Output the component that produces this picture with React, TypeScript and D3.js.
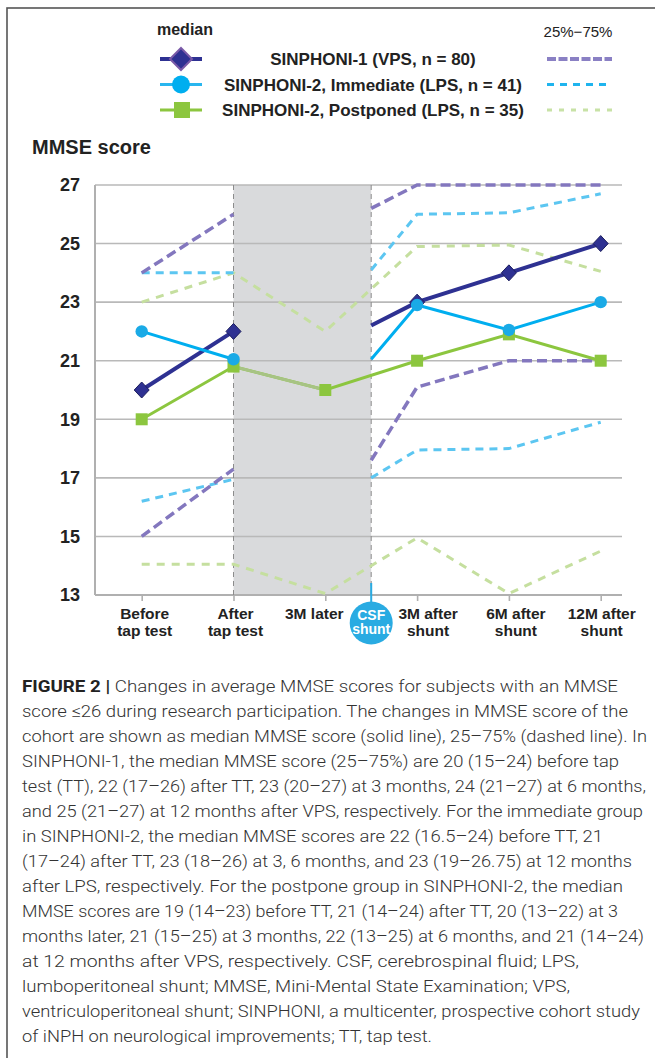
import React, { useEffect, useRef } from 'react';
import * as d3 from 'd3';

// x categories ("|" = line break) and their position on the time axis
const categories = ['Before|tap test', 'After|tap test', '3M later', 'CSF shunt', '3M after|shunt', '6M after|shunt', '12M after|shunt'];
const timePos = [0, 1, 2, 2.5, 3, 4, 5];
const yTicks = [13, 15, 17, 19, 21, 23, 25, 27];

// null at "3M later" = break in the line; null at "CSF shunt" = line passes straight through
const vpsMedian = [20, 22, null, 22.2, 23, 24, 25];
const vpsLow = [15, 17.3, null, 17.6, 20.1, 21, 21];
const vpsHigh = [24, 26, null, 26.2, 27, 27, 27];

const immMedian = [22, 21.05, null, 21.05, 22.9, 22.05, 23];
const immLow = [16.2, 16.95, null, 17, 17.95, 18, 18.9];
const immHigh = [24, 24, null, 24.1, 26, 26.05, 26.7];

const postMedian = [19, 20.8, 20, null, 21, 21.9, 21];
const postLow = [14.05, 14.05, 13.05, null, 14.95, 13.05, 14.5];
const postHigh = [23, 24, 22, null, 24.9, 24.95, 24.05];

const legendLabels = ['SINPHONI-1 (VPS, n = 80)', 'SINPHONI-2, Immediate (LPS, n = 41)', 'SINPHONI-2, Postponed (LPS, n = 35)'];

const captionLines = [
  'Changes in average MMSE scores for subjects with an MMSE',
  'score ≤26 during research participation. The changes in MMSE score of the',
  'cohort are shown as median MMSE score (solid line), 25–75% (dashed line). In',
  'SINPHONI-1, the median MMSE score (25–75%) are 20 (15–24) before tap',
  'test (TT), 22 (17–26) after TT, 23 (20–27) at 3 months, 24 (21–27) at 6 months,',
  'and 25 (21–27) at 12 months after VPS, respectively. For the immediate group',
  'in SINPHONI-2, the median MMSE scores are 22 (16.5–24) before TT, 21',
  '(17–24) after TT, 23 (18–26) at 3, 6 months, and 23 (19–26.75) at 12 months',
  'after LPS, respectively. For the postpone group in SINPHONI-2, the median',
  'MMSE scores are 19 (14–23) before TT, 21 (14–24) after TT, 20 (13–22) at 3',
  'months later, 21 (15–25) at 3 months, 22 (13–25) at 6 months, and 21 (14–24)',
  'at 12 months after VPS, respectively. CSF, cerebrospinal fluid; LPS,',
  'lumboperitoneal shunt; MMSE, Mini-Mental State Examination; VPS,',
  'ventriculoperitoneal shunt; SINPHONI, a multicenter, prospective cohort study',
  'of iNPH on neurological improvements; TT, tap test.',
];
// right end of each caption line (layout only)
const captionEnds = [618, 628, 647, 619, 646, 643, 603, 632, 623, 618, 644, 579, 570, 640, 432];
// small horizontal nudges of the x labels (layout only)
const labelNudge = [3, 2, -11, 0, 11, 7, 1];

const FONT = "'Liberation Sans', Arial, Helvetica, sans-serif";

type Pt = { t: number; v: number | null };

const App: React.FC = () => {
  const svgRef = useRef<SVGSVGElement>(null);

  useEffect(() => {
    if (!svgRef.current) return;
    const svg = d3.select(svgRef.current);
    svg.selectAll('*').remove();

    const plot = { left: 95, right: 622, top: 185, bottom: 595 };
    const x = d3.scaleLinear().domain([0, 5]).range([141.7, 600.7]);
    const y = d3.scaleLinear().domain([13, 27]).range([plot.bottom, plot.top]);

    // outer frame (runs off the page on the right and bottom)
    svg.append('rect')
      .attr('x', 7).attr('y', 8).attr('width', 720).attr('height', 1120)
      .attr('fill', 'none').attr('stroke', '#555').attr('stroke-width', 1.6);

    // ---- legend
    svg.append('text')
      .attr('x', 185).attr('y', 35).attr('text-anchor', 'middle')
      .attr('font-family', FONT).attr('font-weight', 'bold').attr('font-size', 16).attr('fill', '#222')
      .text('median');
    svg.append('text')
      .attr('x', 578).attr('y', 37).attr('text-anchor', 'middle')
      .attr('font-family', FONT).attr('font-size', 15).attr('fill', '#222')
      .text('25%−75%');

    const legendY = (i: number) => 59 + i * 25.5;
    const solidColors = ['#2e3192', '#29b6ef', '#8cc63f'];
    const dashColors = ['#8a80c4', '#1fb4ee', '#c8e2a6'];
    const dashArrays = ['9 2.5', '7 6', '5 7'];
    const dashWidths = [4, 3, 3];

    legendLabels.forEach((label, i) => {
      const cy = legendY(i);
      svg.append('line')
        .attr('x1', 160).attr('x2', 202).attr('y1', cy).attr('y2', cy)
        .attr('stroke', solidColors[i]).attr('stroke-width', i === 0 ? 4 : 3);
      if (i === 0) {
        svg.append('path')
          .attr('d', `M181,${cy - 11}L192,${cy}L181,${cy + 11}L170,${cy}Z`)
          .attr('fill', '#2e3192').attr('stroke', '#7a5aa8').attr('stroke-width', 2);
      } else if (i === 1) {
        svg.append('circle').attr('cx', 181).attr('cy', cy).attr('r', 9).attr('fill', '#00aeef');
      } else {
        svg.append('rect').attr('x', 174).attr('y', cy - 8).attr('width', 16).attr('height', 16).attr('fill', '#8cc63f');
      }
      svg.append('text')
        .attr('x', 373).attr('y', cy + 6).attr('text-anchor', 'middle')
        .attr('font-family', FONT).attr('font-weight', 'bold').attr('font-size', 17).attr('fill', '#222')
        .text(label);
      svg.append('line')
        .attr('x1', 547).attr('x2', 612).attr('y1', cy).attr('y2', cy)
        .attr('stroke', dashColors[i]).attr('stroke-width', dashWidths[i])
        .attr('stroke-dasharray', dashArrays[i]);
    });

    svg.append('text')
      .attr('x', 32).attr('y', 154)
      .attr('font-family', FONT).attr('font-weight', 'bold').attr('font-size', 20).attr('fill', '#222')
      .text('MMSE score');

    // ---- plot background: shaded waiting period
    svg.append('rect')
      .attr('x', x(1)).attr('y', plot.top)
      .attr('width', x(2.5) - x(1)).attr('height', plot.bottom - plot.top)
      .attr('fill', '#d9dadc');

    // grid
    svg.append('g')
      .selectAll('line')
      .data(yTicks)
      .join('line')
      .attr('x1', plot.left).attr('x2', plot.right)
      .attr('y1', d => y(d)).attr('y2', d => y(d))
      .attr('stroke', '#b9b9b9').attr('stroke-width', 1.6);

    // y axis labels
    const yAxis = svg.append('g')
      .attr('transform', `translate(${plot.left},0)`)
      .call(d3.axisLeft(y).tickValues(yTicks).tickSize(0).tickPadding(15).tickFormat(d3.format('d')))
      .attr('font-family', FONT).attr('font-size', 18).attr('font-weight', 'bold');
    yAxis.select('.domain').remove();
    yAxis.selectAll('text').attr('fill', '#222');

    // axes lines
    svg.append('line')
      .attr('x1', plot.left).attr('x2', plot.left).attr('y1', plot.top).attr('y2', plot.bottom)
      .attr('stroke', '#b0b0b0').attr('stroke-width', 2);

    const xAxis = svg.append('g')
      .attr('transform', `translate(0,${plot.bottom})`)
      .call(d3.axisBottom(x).tickValues(timePos.filter(t => t !== 2.5)).tickSize(6).tickFormat(() => ''));
    xAxis.select('.domain').remove();
    xAxis.selectAll('line').attr('stroke', '#b0b0b0').attr('stroke-width', 1.6);
    svg.append('line')
      .attr('x1', plot.left).attr('x2', plot.right).attr('y1', plot.bottom).attr('y2', plot.bottom)
      .attr('stroke', '#b0b0b0').attr('stroke-width', 2);

    // vertical dashed markers: tap test / CSF shunt
    [1, 2.5].forEach(t => {
      svg.append('line')
        .attr('x1', x(t)).attr('x2', x(t)).attr('y1', plot.top).attr('y2', plot.bottom)
        .attr('stroke', '#8c8c8c').attr('stroke-width', 1).attr('stroke-dasharray', '5 4');
    });

    // ---- series
    // a missing value at the shunt point is simply skipped, other missing values break the line
    const toPts = (vals: (number | null)[]): Pt[] =>
      vals
        .map((v, i) => ({ t: timePos[i], v }))
        .filter(p => !(p.t === 2.5 && p.v == null));

    const line = d3.line<Pt>()
      .defined(d => d.v != null)
      .x(d => x(d.t))
      .y(d => y(d.v as number));

    const dashed = (vals: (number | null)[], color: string, dash: string, w: number) => {
      svg.append('path')
        .datum(toPts(vals))
        .attr('fill', 'none')
        .attr('stroke', color)
        .attr('stroke-width', w)
        .attr('stroke-dasharray', dash)
        .attr('d', line);
    };
    dashed(postHigh, '#c5df9f', '8 7', 3);
    dashed(postLow, '#c5df9f', '8 7', 3);
    dashed(immHigh, '#5cc6f1', '8 6', 3);
    dashed(immLow, '#5cc6f1', '8 6', 3);
    dashed(vpsHigh, '#8377be', '10 5', 3.5);
    dashed(vpsLow, '#8377be', '10 5', 3.5);

    const solid = (vals: (number | null)[], color: string, w: number) => {
      svg.append('path')
        .datum(toPts(vals))
        .attr('fill', 'none')
        .attr('stroke', color)
        .attr('stroke-width', w)
        .attr('d', line);
    };
    solid(postMedian, '#8cc63f', 3);
    // muted segment across the waiting period
    svg.append('path')
      .datum(toPts(postMedian.map((v, i) => (i === 1 || i === 2 ? v : null))))
      .attr('fill', 'none').attr('stroke', '#a7c384').attr('stroke-width', 3)
      .attr('d', line);
    solid(vpsMedian, '#2e3192', 4);
    solid(immMedian, '#00aeef', 3);

    const markerPts = (vals: (number | null)[]) =>
      vals.map((v, i) => ({ t: timePos[i], v })).filter(d => d.v != null && d.t !== 2.5);

    svg.append('g')
      .selectAll('rect')
      .data(markerPts(postMedian))
      .join('rect')
      .attr('x', d => x(d.t) - 6).attr('y', d => y(d.v as number) - 6)
      .attr('width', 12).attr('height', 12)
      .attr('fill', '#8cc63f');

    svg.append('g')
      .selectAll('path')
      .data(markerPts(vpsMedian))
      .join('path')
      .attr('d', d => {
        const cx = x(d.t);
        const cy = y(d.v as number);
        return `M${cx},${cy - 8}L${cx + 7.5},${cy}L${cx},${cy + 8}L${cx - 7.5},${cy}Z`;
      })
      .attr('fill', '#2e3192').attr('stroke', '#1d1f5e').attr('stroke-width', 1);

    svg.append('g')
      .selectAll('circle')
      .data(markerPts(immMedian))
      .join('circle')
      .attr('cx', d => x(d.t)).attr('cy', d => y(d.v as number))
      .attr('r', 6.2)
      .attr('fill', '#1aaae6');

    // ---- x labels
    categories.forEach((c, i) => {
      if (timePos[i] === 2.5) return;
      const t = svg.append('text')
        .attr('x', x(timePos[i]) + labelNudge[i]).attr('y', 619)
        .attr('text-anchor', 'middle')
        .attr('font-family', FONT).attr('font-weight', 'bold').attr('font-size', 15.5).attr('fill', '#222');
      c.split('|').forEach((part, k) => {
        t.append('tspan').attr('x', x(timePos[i]) + labelNudge[i]).attr('dy', k === 0 ? 0 : 17).text(part);
      });
    });

    // CSF shunt badge
    const csfX = x(2.5);
    svg.append('line')
      .attr('x1', csfX).attr('x2', csfX).attr('y1', plot.bottom - 12).attr('y2', 604)
      .attr('stroke', '#29abe2').attr('stroke-width', 2);
    svg.append('circle').attr('cx', csfX).attr('cy', 623).attr('r', 21.5).attr('fill', '#29abe2');
    categories[3].split(' ').forEach((part, k) => {
      svg.append('text')
        .attr('x', csfX).attr('y', 620 + k * 14).attr('text-anchor', 'middle')
        .attr('font-family', FONT).attr('font-weight', 'bold').attr('font-size', 14).attr('fill', '#fff')
        .text(part);
    });

    // ---- caption
    const capFont = "Roboto, 'Open Sans', 'Liberation Sans', sans-serif";
    captionLines.forEach((txt, i) => {
      const t = svg.append('text')
        .attr('x', 22).attr('y', 692 + i * 25)
        .attr('font-family', capFont).attr('font-weight', 300).attr('font-size', 17).attr('fill', '#333')
        .attr('textLength', captionEnds[i] - 22)
        .attr('lengthAdjust', 'spacingAndGlyphs');
      if (i === 0) {
        t.append('tspan').attr('font-weight', 700).attr('fill', '#222').text('FIGURE 2 | ');
      }
      t.append('tspan').text(txt);
    });
  }, []);

  return (
    <svg
      ref={svgRef}
      width={655}
      height={1058}
      viewBox="0 0 655 1058"
      style={{ position: 'absolute', left: 0, top: 0, display: 'block', background: '#fff' }}
    />
  );
};

export default App;
